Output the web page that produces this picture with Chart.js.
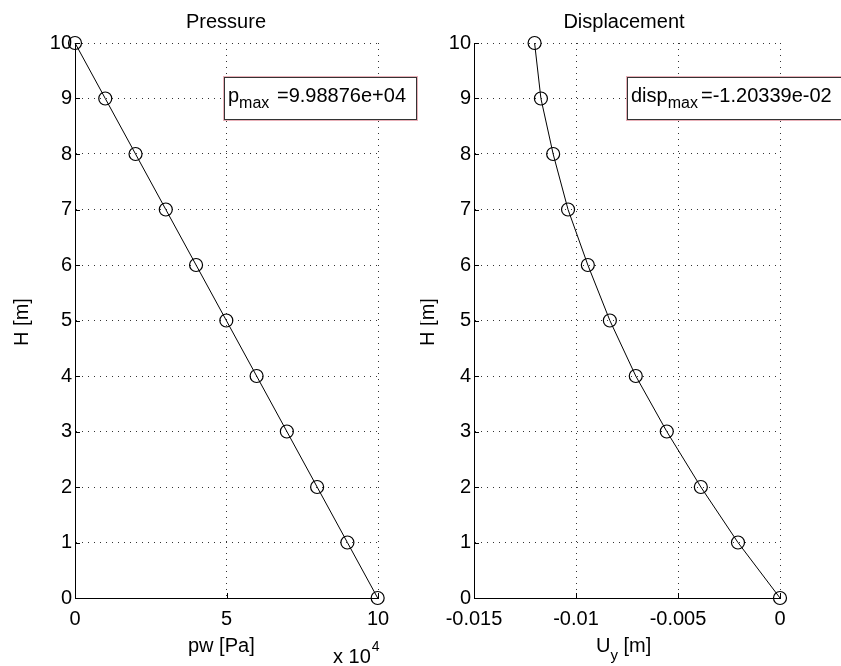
<!DOCTYPE html>
<html>
<head>
<meta charset="utf-8">
<script src="https://cdn.jsdelivr.net/npm/chart.js@4/dist/chart.umd.min.js"></script>
<style>
  html,body{margin:0;padding:0;background:#fff;}
  #wrap{position:relative;width:841px;height:666px;overflow:hidden;}
  #pBox{position:absolute;left:0;top:0;width:420px;height:666px;}
  #dBox{position:absolute;left:420px;top:0;width:421px;height:666px;}
</style>
</head>
<body>
<div id="wrap">
  <div id="pBox"><canvas id="pChart" width="420" height="666"></canvas></div>
  <div id="dBox"><canvas id="dChart" width="421" height="666"></canvas></div>
</div>
<script>
// depth levels (m)
const heights = [10, 9, 8, 7, 6, 5, 4, 3, 2, 1, 0];
// water pressure (Pa) at each level
const pressure = [0, 9989, 19978, 29966, 39955, 49944, 59933, 69921, 79910, 89899, 99888];
// horizontal displacement (m) at each level
const displacement = [-0.01203, -0.01172, -0.01112, -0.01039, -0.00942, -0.00834, -0.00707, -0.00555, -0.00388, -0.00206, 0];
const hTicks = [0,1,2,3,4,5,6,7,8,9,10];
const pTicks = [0, 50000, 100000];
const dTicks = [-0.015, -0.01, -0.005, 0];
const pMaxText = "=9.98876e+04";
const dMaxText = "=-1.20339e-02";

const FONT = '"Liberation Sans", Arial, sans-serif';
Chart.defaults.font.family = FONT;
Chart.defaults.font.size = 20;
Chart.defaults.color = "#000";

const pts = (xs)=>xs.map((x,i)=>({x:x, y:heights[i]}));

function dataset(xs){
  return {data:pts(xs), showLine:true, borderColor:"#000", borderWidth:1,
    pointRadius:6.5, pointHoverRadius:6.5, pointStyle:"circle", pointBorderColor:"#000",
    pointBackgroundColor:"rgba(0,0,0,0)", pointBorderWidth:1.2, clip:false};
}

function deco(cfg){
  return {id:"deco", afterDraw(chart){
    const ctx = chart.ctx, a = chart.chartArea, xs = chart.scales.x, ys = chart.scales.y;
    ctx.save();
    // inward tick marks
    ctx.strokeStyle = "#000"; ctx.lineWidth = 1; ctx.beginPath();
    hTicks.forEach(v=>{ const y = Math.round(ys.getPixelForValue(v))+.5; ctx.moveTo(a.left, y); ctx.lineTo(a.left+5, y); });
    cfg.xTicks.forEach(v=>{ const x = Math.round(xs.getPixelForValue(v))+.5; ctx.moveTo(x, a.bottom); ctx.lineTo(x, a.bottom-5); });
    ctx.stroke();
    // title
    ctx.fillStyle = "#000"; ctx.textAlign = "center"; ctx.textBaseline = "alphabetic";
    ctx.font = "20px "+FONT;
    ctx.fillText(cfg.title, cfg.titleX, 28);
    // y label
    ctx.save(); ctx.translate(cfg.yLabX, 322); ctx.rotate(-Math.PI/2);
    ctx.fillText("H [m]", 0, 0); ctx.restore();
    // x label
    ctx.textAlign = "left";
    let x = cfg.xLabX;
    ctx.font = "20px "+FONT; ctx.fillText(cfg.xLab[0], x, 652); x += ctx.measureText(cfg.xLab[0]).width;
    if(cfg.xLab[1]){ ctx.font = "15px "+FONT; ctx.fillText(cfg.xLab[1], x, 660); x += ctx.measureText(cfg.xLab[1]).width; }
    if(cfg.xLab[2]){ ctx.font = "20px "+FONT; ctx.fillText(cfg.xLab[2], x, 652); }
    // exponent
    if(cfg.expo){
      ctx.font = "20px "+FONT; ctx.fillText("x 10", 333, 663);
      const ex = 333 + ctx.measureText("x 10").width + 1;
      ctx.font = "14px "+FONT; ctx.fillText("4", ex, 651);
    }
    // max annotation box
    const b = cfg.box;
    ctx.fillStyle = "#fff"; ctx.fillRect(b.x, 77, b.w, 42);
    ctx.strokeStyle = "#e8b0b8"; ctx.strokeRect(b.x-0.5, 76.5, b.w+1, 44);
    ctx.strokeStyle = "#333"; ctx.strokeRect(b.x+0.5, 77.5, b.w-1, 42);
    ctx.fillStyle = "#000";
    ctx.font = "20px "+FONT; ctx.fillText(b.main, b.x+4, 102);
    let bx = b.x+4+ctx.measureText(b.main).width;
    ctx.font = "16px "+FONT; ctx.fillText("max", bx, 108);
    bx += ctx.measureText("max").width + 3;
    ctx.font = "20px "+FONT; ctx.fillText(b.val, Math.max(b.valX, bx), 102);
    ctx.restore();
  }};
}

function options(xmin, xmax, fmt, yW, padL, padR){
  return {responsive:false, animation:false, events:[],
    layout:{padding:{left:padL, top:43, right:padR, bottom:0}},
    plugins:{legend:{display:false}, tooltip:{enabled:false}},
    scales:{
      x:{type:"linear", min:xmin, max:xmax,
        afterFit:s=>{ s.height = 68; },
        ticks:{padding:9, maxRotation:0, autoSkip:false, callback:fmt, color:"#000"},
        grid:{color:"#333", lineWidth:1, drawTicks:false},
        border:{display:true, color:"#000", width:1, dash:[1,5]}},
      y:{type:"linear", min:0, max:10,
        afterFit:s=>{ s.width = yW; },
        ticks:{stepSize:1, padding:3, autoSkip:false, color:"#000"},
        grid:{color:"#333", lineWidth:1, drawTicks:false},
        border:{display:true, color:"#000", width:1, dash:[1,5]}}
    }};
}

const pOpt = options(0, 100000, v=>String(v/10000), 75, 0, 42);
pOpt.scales.x.afterBuildTicks = s=>{ s.ticks = pTicks.map(v=>({value:v})); };
new Chart(document.getElementById("pChart"), {type:"scatter",
  data:{datasets:[dataset(pressure)]},
  options:pOpt,
  plugins:[deco({title:"Pressure", titleX:226, yLabX:28, xLabX:188, xLab:["pw [Pa]"], expo:true,
    xTicks:pTicks, box:{x:224, w:193, main:"p", val:pMaxText, valX:277}})]});

const dOpt = options(-0.015, 0, v=>String(+Number(v).toFixed(3)), 54, 0, 61);
dOpt.scales.x.afterBuildTicks = s=>{ s.ticks = dTicks.map(v=>({value:v})); };
new Chart(document.getElementById("dChart"), {type:"scatter",
  data:{datasets:[dataset(displacement)]},
  options:dOpt,
  plugins:[deco({title:"Displacement", titleX:204, yLabX:14, xLabX:176, xLab:["U","y"," [m]"], expo:false,
    xTicks:dTicks, box:{x:207, w:230, main:"disp", val:dMaxText, valX:281}})]});
</script>
</body>
</html>
